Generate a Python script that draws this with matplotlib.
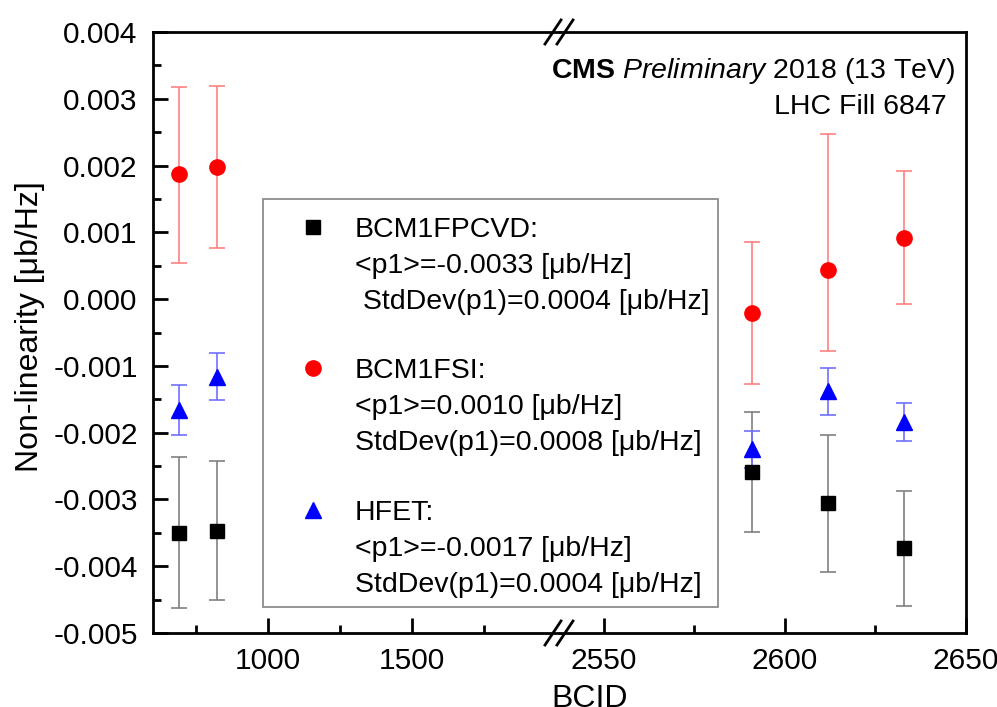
import matplotlib
matplotlib.use("Agg")
import matplotlib.pyplot as plt
from matplotlib.lines import Line2D
from matplotlib.patches import Rectangle
from matplotlib.ticker import FixedLocator, FuncFormatter

plt.rcParams['font.family'] = ['Liberation Sans', 'DejaVu Sans']
plt.rcParams['mathtext.fontset'] = 'custom'
plt.rcParams['mathtext.rm'] = 'Liberation Sans'
plt.rcParams['mathtext.it'] = 'Liberation Sans:italic'
plt.rcParams['mathtext.bf'] = 'Liberation Sans:bold'

# ---------------- data ----------------
bcid = [691, 823, 2591, 2612, 2633]

pcvd = [-0.00350, -0.00347, -0.00259, -0.00306, -0.00373]
pcvd_err = [0.00113, 0.00104, 0.00090, 0.00102, 0.00086]

fsi = [0.00187, 0.00198, -0.00021, 0.00043, 0.00092]
fsi_err_lo = [0.00133, 0.00122, 0.00106, 0.00120, 0.00100]
fsi_err_hi = [0.00131, 0.00121, 0.00106, 0.00204, 0.00100]

hfet = [-0.00166, -0.00116, -0.00225, -0.00138, -0.00184]
hfet_err = [0.00038, 0.00035, 0.00028, 0.00035, 0.00029]

left_xticks = [1000, 1500]
left_xminor = [750, 1250, 1750]
right_xticks = [2550, 2600, 2650]
right_xminor = [2575, 2625]
yticks = [-0.005, -0.004, -0.003, -0.002, -0.001, 0.0, 0.001, 0.002, 0.003, 0.004]
yminor = [-0.0045, -0.0035, -0.0025, -0.0015, -0.0005, 0.0005, 0.0015, 0.0025, 0.0035]

legend_lines = [
    ["BCM1FPCVD:", "<p1>=-0.0033 [μb/Hz]", " StdDev(p1)=0.0004 [μb/Hz]"],
    ["BCM1FSI:", "<p1>=0.0010 [μb/Hz]", "StdDev(p1)=0.0008 [μb/Hz]"],
    ["HFET:", "<p1>=-0.0017 [μb/Hz]", "StdDev(p1)=0.0004 [μb/Hz]"],
]

# ---------------- figure ----------------
W, H = 997, 707
fig = plt.figure(figsize=(W / 100, H / 100), dpi=100)


def fx(px):
    return px / W


def fy(py):
    return 1 - py / H


x0, xb, x1 = 153, 560, 966
y0, y1 = 32, 633
axL = fig.add_axes([fx(x0), fy(y1), (xb - x0) / W, (y1 - y0) / H])
axR = fig.add_axes([fx(xb), fy(y1), (x1 - xb) / W, (y1 - y0) / H])

for ax in (axL, axR):
    ax.errorbar(bcid, pcvd, yerr=pcvd_err, fmt='none', ecolor='#808080',
                elinewidth=1.2, capsize=6, capthick=1.2, zorder=2)
    ax.errorbar(bcid, fsi, yerr=[fsi_err_lo, fsi_err_hi], fmt='none', ecolor='#ff8080',
                elinewidth=1.2, capsize=6, capthick=1.2, zorder=2)
    ax.errorbar(bcid, hfet, yerr=hfet_err, fmt='none', ecolor='#7070ff',
                elinewidth=1.2, capsize=6, capthick=1.2, zorder=2)
    ax.plot(bcid, pcvd, linestyle='none', marker='s', color='black', markersize=9.5, zorder=3)
    ax.plot(bcid, fsi, linestyle='none', marker='o', color='#ff0000', markersize=11, zorder=3)
    ax.plot(bcid, hfet, linestyle='none', marker='^', color='#0000ff', markersize=11, zorder=3)
    ax.set_ylim(-0.005, 0.004)
    for s in ax.spines.values():
        s.set_linewidth(2)
    ax.tick_params(axis='both', which='both', direction='in', top=False, right=False,
                   width=2, labelsize=21.5)
    ax.tick_params(which='major', length=11)
    ax.tick_params(which='minor', length=6)
    ax.tick_params(axis='x', pad=10)

axL.set_xlim(600, 2015)
axL.xaxis.set_major_locator(FixedLocator(left_xticks))
axL.xaxis.set_minor_locator(FixedLocator(left_xminor))
axL.spines['right'].set_visible(False)
axL.yaxis.set_major_locator(FixedLocator(yticks))
axL.yaxis.set_minor_locator(FixedLocator(yminor))
axL.yaxis.set_major_formatter(FuncFormatter(lambda v, p: "%.3f" % (round(v, 6) + 0.0)))
axL.tick_params(axis='y', pad=11)

axR.set_xlim(2538, 2650)
axR.xaxis.set_major_locator(FixedLocator(right_xticks))
axR.xaxis.set_minor_locator(FixedLocator(right_xminor))
axR.spines['left'].set_visible(False)
axR.tick_params(axis='y', which='both', left=False, labelleft=False)

# break marks
for yb in (y0, y1):
    for xc in (553, 565):
        fig.add_artist(Line2D([fx(xc - 8), fx(xc + 8)], [fy(yb + 12), fy(yb - 12)],
                              transform=fig.transFigure, color='black', lw=2, zorder=6))

# axis labels
fig.text(fx(30), fy(327), "Non-linearity [μb/Hz]", rotation=90, fontsize=23,
         ha='center', va='center')
fig.text(fx(590), fy(684), "BCID", fontsize=23, ha='center', va='top')

# CMS label
fig.text(fx(955), fy(78), r"$\mathbf{CMS}$ $\mathit{Preliminary}$ 2018 (13 TeV)",
         fontsize=20.5, ha='right', va='baseline')
fig.text(fx(947), fy(114), "LHC Fill 6847", fontsize=20.5, ha='right', va='baseline')

# legend box
fig.add_artist(Rectangle((fx(263), fy(607)), (718 - 263) / W, (607 - 199) / H,
                         transform=fig.transFigure, facecolor='white',
                         edgecolor='#8c8c8c', lw=1.3, zorder=5))
markers = [('s', 'black', 9.5), ('o', '#ff0000', 11), ('^', '#0000ff', 11)]
block_base = [237, 378, 520]
for (m, c, ms), lines, b in zip(markers, legend_lines, block_base):
    fig.add_artist(Line2D([fx(313)], [fy(b - 10)], marker=m, color=c, markersize=ms,
                          linestyle='none', transform=fig.transFigure, zorder=6))
    for k, line in enumerate(lines):
        fig.text(fx(355), fy(b + 36 * k), line, fontsize=20.5, ha='left', va='baseline',
                 zorder=6)

fig.savefig("out.png", dpi=100)
